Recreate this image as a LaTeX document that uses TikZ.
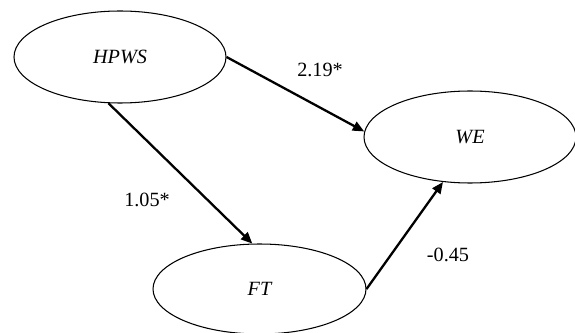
\documentclass[tikz,border=0pt]{standalone}
\usepackage{fontspec}
\setmainfont{Liberation Serif}
\usetikzlibrary{shapes.geometric,arrows.meta}

\begin{document}
\begin{tikzpicture}
[var/.style={draw,ellipse,line width=0.6pt,minimum width=4.24cm,minimum height=1.84cm,inner sep=0pt,font=\fontsize{11.5}{13}\selectfont\itshape},
path/.style={line width=1.3pt,-{Triangle[length=6.5pt,width=5.5pt]}},
coef/.style={font=\fontsize{11.5}{13}\selectfont}]
\useasboundingbox (0,0) rectangle (11.5,6.64);
\node[var] (hpws) at (2.4,5.5) {HPWS};
\node[var] (we) at (9.4,3.9) {WE};
\node[var,minimum width=4.26cm,minimum height=1.8cm] (ft) at (5.19,0.86) {FT};
\node[coef] (c1) at (6.4,5.24) {2.19*};
\node[coef] (c2) at (2.94,2.64) {1.05*};
\node[coef] (c3) at (8.96,1.54) {-0.45};
\foreach \from/\to in {hpws.0/we.177,hpws.256/ft.99,ft.0/we.239}
\draw[path] (\from) -- (\to);
\end{tikzpicture}
\end{document}
